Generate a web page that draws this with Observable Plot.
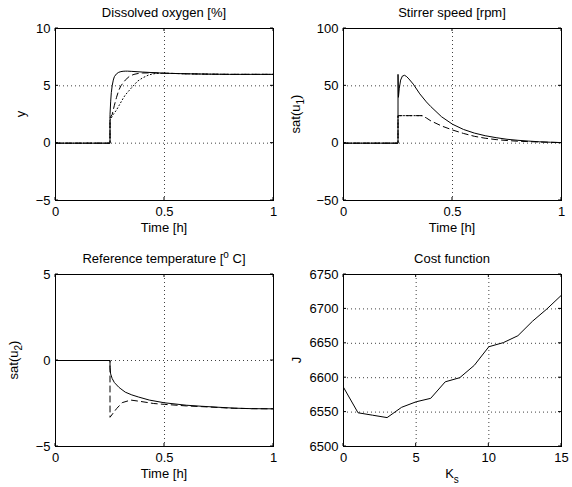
<!DOCTYPE html>
<html><head><meta charset="utf-8">
<script src="https://cdn.jsdelivr.net/npm/d3@7"></script>
<script src="https://cdn.jsdelivr.net/npm/@observablehq/plot@0.6"></script>
<style>
body{margin:0;background:#fff;}
#wrap{position:relative;width:572px;height:487px;font-family:"Liberation Sans",Arial,Helvetica,sans-serif;}
#wrap svg{position:absolute;overflow:visible;}
</style></head><body><div id="wrap"></div>
<script>
// ---------- data ----------
// Dissolved oxygen [%]
const oxySolidT  = [0, 0.25, 0.2501, 0.253, 0.256, 0.26, 0.265, 0.27, 0.28, 0.29, 0.30, 0.31, 0.32, 0.33, 0.35, 0.40, 0.50, 0.60, 0.70, 0.80, 0.90, 1.00];
const oxySolidY  = [0, 0, 2.5, 3.6, 4.4, 5.0, 5.5, 5.8, 6.05, 6.18, 6.24, 6.27, 6.28, 6.28, 6.26, 6.2, 6.1, 6.05, 6.02, 6.0, 6.0, 6.0];
const oxyDashT   = [0, 0.25, 0.2501, 0.26, 0.27, 0.28, 0.29, 0.30, 0.32, 0.34, 0.36, 0.38, 0.40, 0.45, 0.50, 0.60, 0.70, 0.80, 0.90, 1.00];
const oxyDashY   = [0, 0, 2.2, 2.5, 3.3, 4.0, 4.6, 5.0, 5.5, 5.85, 6.0, 6.08, 6.12, 6.13, 6.1, 6.05, 6.02, 6.0, 6.0, 6.0];
const oxyDotT    = [0, 0.25, 0.2501, 0.265, 0.28, 0.292, 0.31, 0.32, 0.345, 0.376, 0.40, 0.43, 0.46, 0.50, 0.60, 0.70, 0.80, 1.00];
const oxyDotY    = [0, 0, 2.0, 2.5, 2.9, 3.3, 3.9, 4.2, 4.75, 5.4, 5.7, 5.97, 6.08, 6.1, 6.05, 6.02, 6.0, 6.0];
// Stirrer speed [rpm]
const stirSolidT = [0, 0.25, 0.2501, 0.252, 0.256, 0.262, 0.27, 0.28, 0.29, 0.30, 0.32, 0.35, 0.38, 0.40, 0.45, 0.50, 0.55, 0.60, 0.65, 0.70, 0.75, 0.80, 0.85, 0.90, 0.95, 1.00];
const stirSolidY = [0, 0, 60, 40, 48, 55, 58.5, 59.2, 58, 56, 51.5, 43, 36, 32, 23, 16.5, 12, 8.8, 6.5, 4.8, 3.4, 2.5, 1.8, 1.2, 0.8, 0.5];
const stirDashT  = [0, 0.25, 0.2501, 0.30, 0.36, 0.38, 0.40, 0.45, 0.50, 0.55, 0.60, 0.65, 0.70, 0.75, 0.80, 0.90, 1.00];
const stirDashY  = [0, 0, 24, 24, 24, 22, 19.5, 15, 11.5, 8.5, 6, 4.3, 3.1, 2.3, 1.7, 1.0, 0.5];
const stirDotT   = [0, 0.25, 0.2501, 0.30, 0.36];
const stirDotY   = [0, 0, 24, 24, 24];
// Reference temperature [°C]
const tempSolidT = [0, 0.25, 0.2501, 0.253, 0.26, 0.27, 0.276, 0.29, 0.30, 0.32, 0.35, 0.38, 0.43, 0.50, 0.60, 0.67, 0.75, 0.82, 0.90, 1.00];
const tempSolidY = [0, 0, -0.4, -0.78, -1.05, -1.28, -1.36, -1.55, -1.65, -1.84, -2.0, -2.12, -2.3, -2.46, -2.6, -2.66, -2.72, -2.77, -2.8, -2.81];
const tempDashT  = [0, 0.25, 0.2501, 0.28, 0.306, 0.345, 0.39, 0.45, 0.50, 0.60, 0.70, 0.80, 0.90, 1.00];
const tempDashY  = [0, 0, -3.3, -2.8, -2.45, -2.3, -2.38, -2.5, -2.55, -2.64, -2.7, -2.77, -2.8, -2.81];
// Cost function
const costK = [0, 1, 2, 3, 4, 5, 6, 7, 8, 9, 10, 11, 12, 13, 14, 15];
const costJ = [6586, 6549, 6545.5, 6542, 6557, 6565, 6570, 6594, 6600, 6618, 6645, 6651, 6661, 6682, 6700, 6720];
// ticks
const timeTicks = [0, 0.5, 1];
const oxyTicks = [-5, 0, 5, 10];
const stirTicks = [-50, 0, 50, 100];
const tempTicks = [-5, 0, 5];
const costXTicks = [0, 5, 10, 15];
const costYTicks = [6500, 6550, 6600, 6650, 6700, 6750];

// ---------- drawing ----------
const zip = (xs, ys) => xs.map((x, i) => ({x, y: ys[i]}));
const fmt = d => String(d).replace("-", "\u2212");
const FONT = 13;
const wrap = document.getElementById("wrap");

function panel(o) {
  const marks = [
    Plot.gridX(o.xTicks, {stroke: "#000", strokeOpacity: 0.75, strokeWidth: 1, strokeDasharray: "1,3"}),
    Plot.gridY(o.yTicks, {stroke: "#000", strokeOpacity: 0.75, strokeWidth: 1, strokeDasharray: "1,3"}),
    ...o.series.map(s => Plot.line(s.data, {x: "x", y: "y", stroke: "black", strokeWidth: 1, strokeDasharray: s.dash, clip: true})),
    Plot.frame({stroke: "black", strokeWidth: 1}),
    Plot.axisX(o.xTicks, {tickSize: 0, tickPadding: 6, label: null, tickFormat: fmt, fontSize: FONT}),
    Plot.axisY(o.yTicks, {tickSize: 0, tickPadding: 5, label: null, tickFormat: fmt, fontSize: FONT})
  ];
  const p = Plot.plot({
    width: 286, height: o.height,
    marginLeft: o.ml, marginRight: o.mr, marginTop: o.mt, marginBottom: o.mb,
    style: {fontFamily: '"Liberation Sans", Arial, Helvetica, sans-serif', fontSize: FONT + "px", color: "black", background: "white"},
    x: {domain: o.xDomain},
    y: {domain: o.yDomain},
    marks
  });
  p.style.left = o.left + "px";
  p.style.top = o.top + "px";
  wrap.appendChild(p);
  const svg = d3.select(p);
  const sx = p.scale("x"), sy = p.scale("y");
  const x0 = o.ml, x1 = 286 - o.mr, y0 = o.mt, y1 = o.height - o.mb;
  // inward ticks (MATLAB style)
  const tk = svg.append("g").attr("stroke", "black").attr("stroke-width", 1);
  o.xTicks.forEach(v => {
    const X = sx.apply(v);
    tk.append("line").attr("x1", X).attr("x2", X).attr("y1", y1).attr("y2", y1 - 3);
    tk.append("line").attr("x1", X).attr("x2", X).attr("y1", y0).attr("y2", y0 + 3);
  });
  o.yTicks.forEach(v => {
    const Y = sy.apply(v);
    tk.append("line").attr("y1", Y).attr("y2", Y).attr("x1", x0).attr("x2", x0 + 3);
    tk.append("line").attr("y1", Y).attr("y2", Y).attr("x1", x1).attr("x2", x1 - 3);
  });
  const txt = (x, y, parts, rot) => {
    const t = svg.append("text")
      .attr("x", x).attr("y", y)
      .attr("text-anchor", "middle")
      .attr("dominant-baseline", "middle")
      .attr("font-size", FONT)
      .attr("fill", "black");
    if (rot) t.attr("transform", `rotate(${rot},${x},${y})`);
    parts.forEach(pt => {
      const s = t.append("tspan").text(pt.t);
      if (pt.dy) s.attr("dy", pt.dy);
      if (pt.size) s.attr("font-size", pt.size);
    });
  };
  const cx = (x0 + x1) / 2, cy = (y0 + y1) / 2;
  txt(cx, y0 - 14, o.title);
  txt(cx, y1 + 29, o.xlabel);
  txt(o.ylabelX, cy, o.ylabel, -90);
}

panel({
  left: 0, top: 0, height: 243, ml: 55, mr: 13, mt: 28, mb: 43,
  xDomain: [0, 1], yDomain: [-5, 10], xTicks: timeTicks, yTicks: oxyTicks,
  series: [
    {data: zip(oxyDotT, oxyDotY), dash: "1,2.5"},
    {data: zip(oxyDashT, oxyDashY), dash: "6,4"},
    {data: zip(oxySolidT, oxySolidY), dash: null}
  ],
  title: [{t: "Dissolved oxygen [%]"}],
  xlabel: [{t: "Time [h]"}],
  ylabel: [{t: "y"}], ylabelX: 22
});

panel({
  left: 286, top: 0, height: 243, ml: 57, mr: 11, mt: 28, mb: 43,
  xDomain: [0, 1], yDomain: [-50, 100], xTicks: timeTicks, yTicks: stirTicks,
  series: [
    {data: zip(stirDotT, stirDotY), dash: "1,2.5"},
    {data: zip(stirDashT, stirDashY), dash: "6,4"},
    {data: zip(stirSolidT, stirSolidY), dash: null}
  ],
  title: [{t: "Stirrer speed [rpm]"}],
  xlabel: [{t: "Time [h]"}],
  ylabel: [{t: "sat(u"}, {t: "1", dy: 4, size: 10}, {t: ")", dy: -4}], ylabelX: 11
});

panel({
  left: 0, top: 243, height: 244, ml: 55, mr: 13, mt: 31, mb: 41,
  xDomain: [0, 1], yDomain: [-5, 5], xTicks: timeTicks, yTicks: tempTicks,
  series: [
    {data: zip(tempDashT, tempDashY), dash: "6,4"},
    {data: zip(tempSolidT, tempSolidY), dash: null}
  ],
  title: [{t: "Reference temperature ["}, {t: "o", dy: -5, size: 10}, {t: " C]", dy: 5}],
  xlabel: [{t: "Time [h]"}],
  ylabel: [{t: "sat(u"}, {t: "2", dy: 4, size: 10}, {t: ")", dy: -4}], ylabelX: 15
});

panel({
  left: 286, top: 243, height: 244, ml: 57, mr: 11, mt: 31, mb: 41,
  xDomain: [0, 15], yDomain: [6500, 6750], xTicks: costXTicks, yTicks: costYTicks,
  series: [
    {data: zip(costK, costJ), dash: null}
  ],
  title: [{t: "Cost function"}],
  xlabel: [{t: "K"}, {t: "s", dy: 5, size: 10}],
  ylabel: [{t: "J"}], ylabelX: 12
});
</script></body></html>
